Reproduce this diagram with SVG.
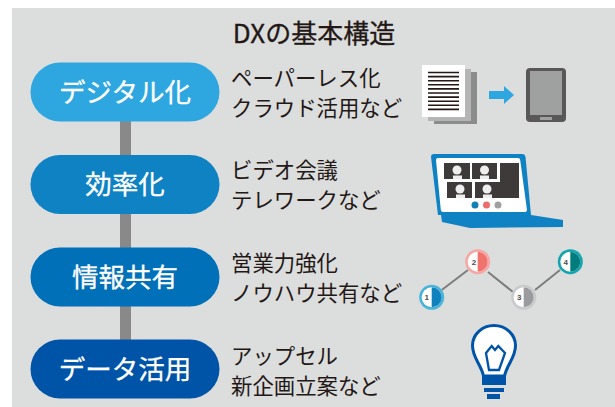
<svg xmlns="http://www.w3.org/2000/svg" width="615" height="407" viewBox="0 0 615 407">
<style>
text{font-family:"Noto Sans CJK JP","Noto Sans",sans-serif}
.t{font-size:21.400px;fill:#231815}
.p{font-size:26.500px;fill:#fff;stroke:#fff;stroke-width:.3;text-anchor:middle}
.n{font-size:8px;font-weight:700;fill:#4d4d4d;text-anchor:middle;font-family:"Liberation Sans",sans-serif}
.d{fill:#3e3a39}.h{fill:#eee}
.l{stroke:#231815;stroke-width:1.6}
.b{fill:#0054a7}
</style>
<rect x="12" y="8" width="603" height="399" fill="#dcdddd"/>
<g id="connectors"><rect x="120" y="120" width="11" height="225" fill="#898989"/>
<path d="M441.700 290L468 270M488 272L513 292M535 290L560 270" stroke="#7d7d7d" stroke-width="2" fill="none"/></g>
<text x="314" y="43" text-anchor="middle" style="font-size:26px;fill:#231815;stroke:#231815;stroke-width:.3">DXの基本構造</text>
<g id="node-digital"><rect x="30.500" y="62.500" width="189" height="59" rx="29.500" fill="#2ea7e0"/><text class="p" x="125" y="101.500">デジタル化</text></g>
<g id="node-efficiency"><rect x="30.500" y="155" width="189" height="59" rx="29.500" fill="#0f82c4"/><text class="p" x="125" y="194">効率化</text></g>
<g id="node-info"><rect x="30.500" y="247.500" width="189" height="59" rx="29.500" fill="#0071b9"/><text class="p" x="125" y="286.500">情報共有</text></g>
<g id="node-data"><rect x="30.500" y="339.500" width="189" height="59" rx="29.500" fill="#0054a7"/><text class="p" x="125" y="379">データ活用</text></g>
<g id="desc-1"><text class="t" x="231" y="86">ペーパーレス化</text><text class="t" x="231" y="116">クラウド活用など</text></g>
<g id="desc-2"><text class="t" x="231" y="178">ビデオ会議</text><text class="t" x="231" y="208">テレワークなど</text></g>
<g id="desc-3"><text class="t" x="231" y="271">営業力強化</text><text class="t" x="231" y="301">ノウハウ共有など</text></g>
<g id="desc-4"><text class="t" x="231" y="364">アップセル</text><text class="t" x="231" y="394">新企画立案など</text></g>
<g id="icon-paper"><rect x="434" y="72" width="43" height="52" fill="#8c8c8c"/><rect x="428" y="69" width="43" height="52" fill="#b5b5b5"/><rect x="422" y="65" width="43" height="52" fill="#fff"/>
<path class="l" d="M428 72.500H459M428 76.600H459M428 80.700H459M428 84.800H459M428 88.900H459M428 93H459M428 97.100H459M428 101.200H459M428 105.300H459M428 109.400H459"/>
<path d="M489 91H504V86L514 95L504 104V99H489Z" fill="#2ea7e0"/>
<rect x="526" y="68" width="40" height="54" rx="4" fill="#595757"/><rect x="530" y="71" width="32" height="44" fill="#9fa0a0"/><rect x="540" y="117" width="12" height="3" fill="#9fa0a0"/></g>
<g id="icon-laptop"><path d="M434 154H522Q525 154 525.500 157L531 215H438L431 157Q431 154 434 154Z" fill="#0f82c4"/><path d="M438 158H518Q520 158 520.200 160L527 210Q527 212 525 212H443Q441 212 440.800 210L436 160Q436 158 438 158Z" fill="#fff"/>
<rect x="444" y="163" width="26" height="16" class="d"/><rect x="472" y="163" width="25" height="16" class="d"/><rect x="500" y="163" width="19" height="35" class="d"/><rect x="447" y="182" width="25" height="16" class="d"/><rect x="475" y="182" width="25" height="16" class="d"/>
<g class="h"><circle cx="457" cy="170" r="4.500"/><rect x="453" y="175.500" width="9" height="3.500"/><circle cx="484.500" cy="170" r="4.500"/><rect x="480" y="175.500" width="9" height="3.500"/><circle cx="460" cy="189" r="4.500"/><rect x="456" y="194.500" width="9" height="3.500"/><circle cx="487" cy="189" r="4.500"/><rect x="483" y="194.500" width="9" height="3.500"/></g>
<circle cx="475" cy="205" r="3.500" fill="#0f7fb4"/><circle cx="486.500" cy="205" r="3.500" fill="#ee6c6c"/><circle cx="498" cy="205" r="3.500" fill="#9fa0a0"/>
<path d="M441 215H531L563 220V227L470 228L442 222Z" fill="#0f82c4"/></g>
<g id="icon-network">
<g><circle cx="431.700" cy="297.300" r="12.500" fill="#48b5d8"/><circle cx="431.700" cy="297.300" r="10" fill="#fff"/><path d="M431.700 287.300A10 10 0 0 1 431.700 307.300Z" fill="#0f82bd"/><text class="n" x="426.700" y="300.300">1</text></g>
<g><circle cx="477.700" cy="261.700" r="12.500" fill="#f5a8a5"/><circle cx="477.700" cy="261.700" r="10" fill="#fff"/><path d="M477.700 251.700A10 10 0 0 1 477.700 271.700Z" fill="#f0736e"/><text class="n" x="474" y="264.700">2</text></g>
<g><circle cx="523.700" cy="297.300" r="12.500" fill="#c9cacc"/><circle cx="523.700" cy="297.300" r="10" fill="#fff"/><path d="M523.700 287.300A10 10 0 0 1 523.700 307.300Z" fill="#9a9b9e"/><text class="n" x="519.300" y="300.300">3</text></g>
<g><circle cx="570.300" cy="261.700" r="12.500" fill="#12a5ad"/><circle cx="570.300" cy="261.700" r="10" fill="#fff"/><path d="M570.300 251.700A10 10 0 0 1 570.300 271.700Z" fill="#017d7d"/><text class="n" x="565.700" y="264.700">4</text></g></g>
<g id="icon-bulb"><path d="M483.500 376C481 364 472.500 358 472.500 345.500A21.500 20 0 0 1 515.500 345.500C515.500 358 507 364 504.500 376Z" fill="#fff" stroke="#0054a7" stroke-width="3"/><path d="M486 353L491.700 346L495 350L498.300 346L505 353L499 370H489Z" fill="none" stroke="#0054a7" stroke-width="2.300"/><rect class="b" x="482" y="375" width="24" height="10"/><rect class="b" x="484" y="388" width="20" height="4"/><rect class="b" x="487" y="394" width="13" height="5"/></g>
</svg>
